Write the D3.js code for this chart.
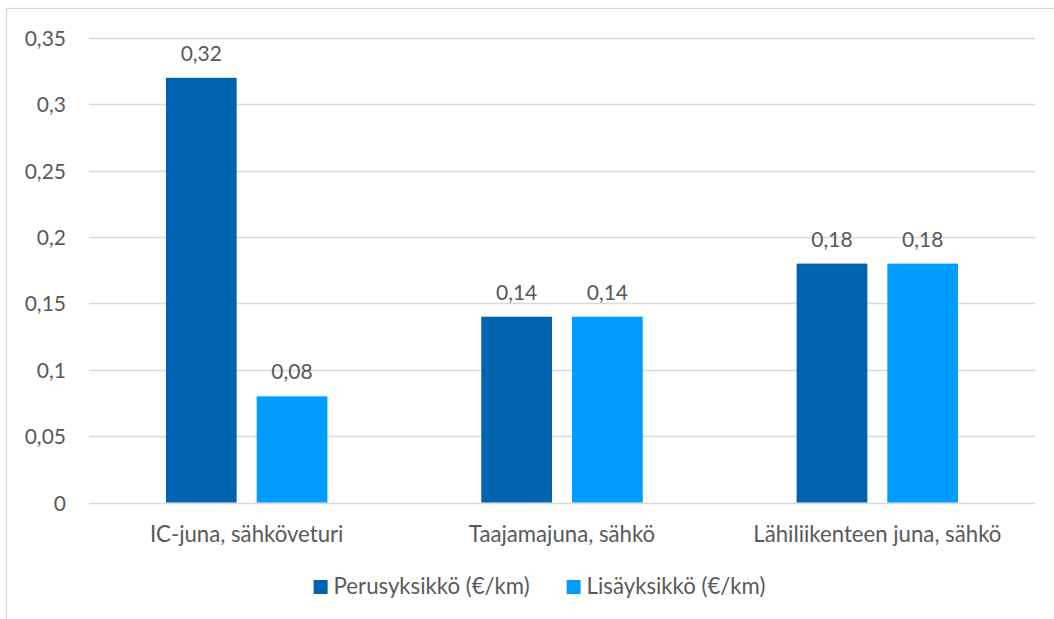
<!DOCTYPE html>
<html>
<head>
<meta charset="utf-8">
<script src="https://cdn.jsdelivr.net/npm/d3@7"></script>
<style>
  html, body { margin: 0; padding: 0; background: #ffffff; }
  svg { display: block; }
  text { font-family: Lato, "Open Sans", sans-serif; fill: #595959; }
</style>
</head>
<body>
<svg id="chart" width="1054" height="619"></svg>
<script>
// Categories, series and values
const categories = ["IC-juna, sähköveturi", "Taajamajuna, sähkö", "Lähiliikenteen juna, sähkö"];
const seriesNames = ["Perusyksikkö (€/km)", "Lisäyksikkö (€/km)"];
const perusyksikko = [0.32, 0.14, 0.18];
const lisayksikko = [0.08, 0.14, 0.18];
const yTicks = [0, 0.05, 0.1, 0.15, 0.2, 0.25, 0.3, 0.35];
const colors = ["#0063B0", "#009CFF"];

const seriesValues = [perusyksikko, lisayksikko];
const rows = categories.map((c, i) => ({
  category: c,
  values: seriesNames.map((s, j) => ({ series: s, value: seriesValues[j][i], color: colors[j] }))
}));

const svg = d3.select("#chart");
const fmt = v => String(+v.toFixed(2)).replace(".", ",");
const numSize = 21;
const textSize = 22.2;

// Outer chart frame (extends past the right and bottom edges)
svg.append("rect")
  .attr("x", 6.5).attr("y", 8.5)
  .attr("width", 1200).attr("height", 800)
  .attr("fill", "none").attr("stroke", "#D9D9D9").attr("stroke-width", 1.3);

const plot = { left: 89, right: 1035, top: 38, bottom: 502.5 };

const y = d3.scaleLinear().domain([0, 0.35]).range([plot.bottom, plot.top]);
const x0 = d3.scaleBand().domain(categories).range([plot.left, plot.right]).padding(0);
const groupWidth = x0.bandwidth() * 0.512;
const x1 = d3.scaleBand().domain(seriesNames).range([0, groupWidth]).paddingInner(0.2205).paddingOuter(0);
const groupOffset = (x0.bandwidth() - groupWidth) / 2;

// Gridlines
svg.append("g")
  .selectAll("line")
  .data(yTicks)
  .join("line")
  .attr("x1", plot.left).attr("x2", plot.right)
  .attr("y1", d => Math.round(y(d)) + 0.5).attr("y2", d => Math.round(y(d)) + 0.5)
  .attr("stroke", "#D9D9D9").attr("stroke-width", 1.4);

// Y axis labels
const yAxis = d3.axisLeft(y).tickValues(yTicks).tickFormat(fmt).tickSize(0).tickPadding(0);
const yG = svg.append("g").attr("transform", `translate(${plot.left - 23},0)`).call(yAxis);
yG.select(".domain").remove();
yG.selectAll("text")
  .attr("font-family", "Lato, 'Open Sans', sans-serif")
  .attr("font-size", numSize)
  .attr("fill", "#595959")
  .attr("dy", "0.36em");

// Bars
const groups = svg.append("g")
  .selectAll("g")
  .data(rows)
  .join("g")
  .attr("transform", d => `translate(${x0(d.category) + groupOffset},0)`);

groups.selectAll("rect")
  .data(d => d.values)
  .join("rect")
  .attr("x", d => x1(d.series))
  .attr("width", x1.bandwidth())
  .attr("y", d => y(d.value))
  .attr("height", d => y(0) - y(d.value))
  .attr("fill", d => d.color);

// Value labels
groups.selectAll("text.value")
  .data(d => d.values)
  .join("text")
  .attr("class", "value")
  .attr("x", d => x1(d.series) + x1.bandwidth() / 2)
  .attr("y", d => y(d.value) - 17)
  .attr("text-anchor", "middle")
  .attr("font-size", numSize)
  .text(d => fmt(d.value));

// Category labels
const xAxis = d3.axisBottom(x0).tickSize(0).tickPadding(0);
const xG = svg.append("g").attr("transform", `translate(0,${plot.bottom})`).call(xAxis);
xG.select(".domain").remove();
xG.selectAll("text")
  .attr("font-family", "Lato, 'Open Sans', sans-serif")
  .attr("font-size", textSize)
  .attr("fill", "#595959")
  .attr("dy", null)
  .attr("y", 39.5);

// Legend
const legend = svg.append("g");
const items = legend.selectAll("g")
  .data(seriesNames.map((s, i) => ({ name: s, color: colors[i] })))
  .join("g");
items.append("rect")
  .attr("width", 14).attr("height", 14)
  .attr("y", -14)
  .attr("fill", d => d.color);
items.append("text")
  .attr("x", 20)
  .attr("y", 0)
  .attr("font-size", textSize)
  .text(d => d.name);

let cursor = 0;
const itemGap = 37;
items.each(function () {
  const w = 20 + d3.select(this).select("text").node().getComputedTextLength();
  d3.select(this).attr("transform", `translate(${cursor},0)`);
  cursor += w + itemGap;
});
const legendWidth = cursor - itemGap;
legend.attr("transform", `translate(${539.5 - legendWidth / 2},594)`);
</script>
</body>
</html>
